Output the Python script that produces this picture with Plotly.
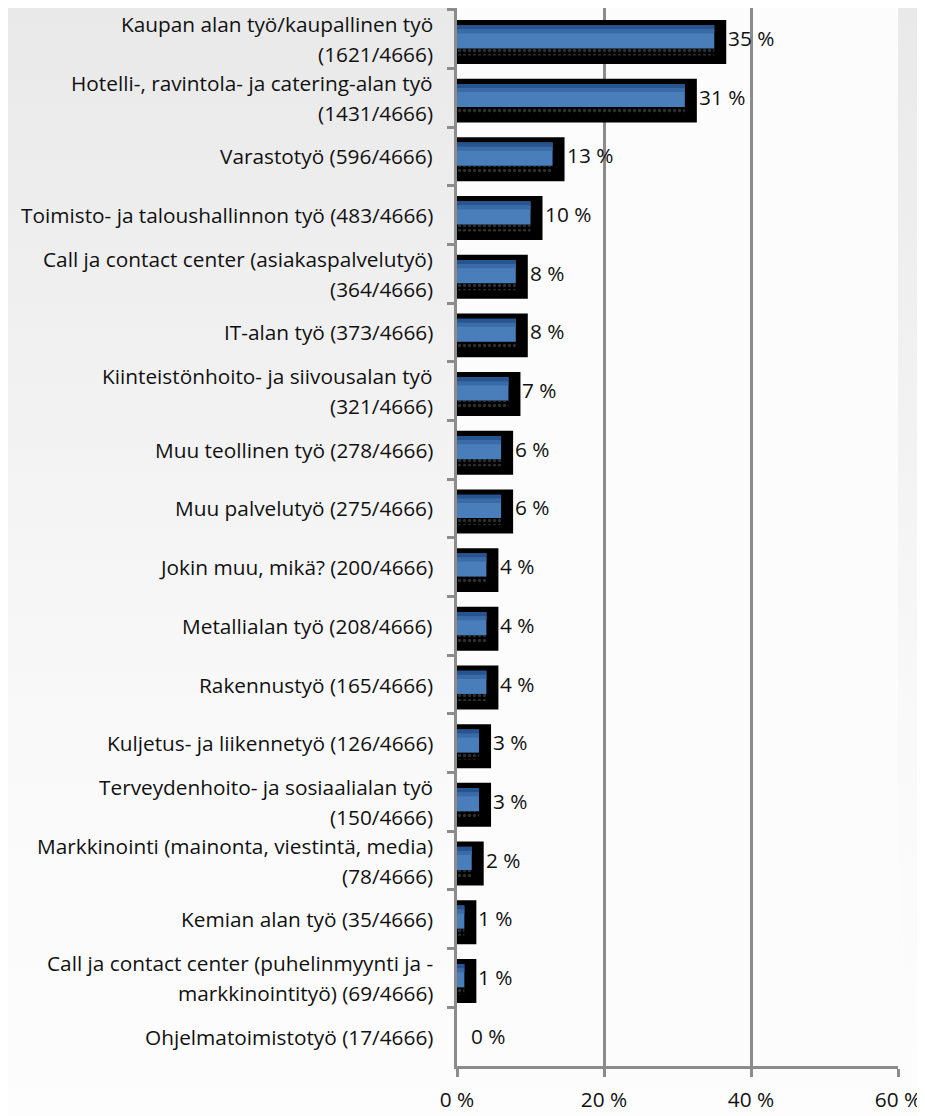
import plotly.graph_objects as go
from urllib.parse import quote

categories = [
    "Kaupan alan työ/kaupallinen työ<br>(1621/4666)",
    "Hotelli-, ravintola- ja catering-alan työ<br>(1431/4666)",
    "Varastotyö (596/4666)",
    "Toimisto- ja taloushallinnon työ (483/4666)",
    "Call ja contact center (asiakaspalvelutyö)<br>(364/4666)",
    "IT-alan työ (373/4666)",
    "Kiinteistönhoito- ja siivousalan työ<br>(321/4666)",
    "Muu teollinen työ (278/4666)",
    "Muu palvelutyö (275/4666)",
    "Jokin muu, mikä? (200/4666)",
    "Metallialan työ (208/4666)",
    "Rakennustyö (165/4666)",
    "Kuljetus- ja liikennetyö (126/4666)",
    "Terveydenhoito- ja sosiaalialan työ<br>(150/4666)",
    "Markkinointi (mainonta, viestintä, media)<br>(78/4666)",
    "Kemian alan työ (35/4666)",
    "Call ja contact center (puhelinmyynti ja -<br>markkinointityö) (69/4666)",
    "Ohjelmatoimistotyö (17/4666)",
]
values = [35, 31, 13, 10, 8, 8, 7, 6, 6, 4, 4, 4, 3, 3, 2, 1, 1, 0]
x_ticks = [0, 20, 40, 60]
x_ticklabels = ["0 %", "20 %", "40 %", "60 %"]

FONT = "Open Sans"
FS = 20.8
TXT = "#111111"
GRID = "#8c8c8c"

# page body has an 8px margin, so the figure is placed at (8, 8) in the window
W, H = 917, 1108
ML, MR, MT, MB = 449, 27, 0, 50
PW, PH = W - ML - MR, H - MT - MB

fig = go.Figure()

# black shadow box (no box for zero-length bars)
shadow_x = [v if v > 0 else None for v in values]
fig.add_trace(go.Bar(
    y=categories, x=shadow_x, orientation="h",
    width=0.34, offset=-0.12,
    marker=dict(color="black", line=dict(color="black", width=24)),
    hoverinfo="skip", showlegend=False,
))
# dotted texture strip under the blue bar
fig.add_trace(go.Bar(
    y=categories, x=values, orientation="h",
    width=0.12, offset=0.16,
    marker=dict(color="black", line=dict(width=0),
                pattern=dict(shape=".", fgcolor="#5c5c5c", bgcolor="black", size=5, solidity=0.35)),
    hoverinfo="skip", showlegend=False,
))
# main blue bar
fig.add_trace(go.Bar(
    y=categories, x=values, orientation="h",
    width=0.395, offset=-0.235,
    marker=dict(color="#4a7ebb", line=dict(width=0)),
    hoverinfo="skip", showlegend=False,
))
# gradient strips at top of blue bar
fig.add_trace(go.Bar(
    y=categories, x=values, orientation="h",
    width=0.07, offset=-0.165,
    marker=dict(color="#3a6ba8", line=dict(width=0)),
    hoverinfo="skip", showlegend=False,
))
fig.add_trace(go.Bar(
    y=categories, x=values, orientation="h",
    width=0.07, offset=-0.235,
    marker=dict(color="#27548f", line=dict(width=0)),
    hoverinfo="skip", showlegend=False,
))

annotations = []
# value labels
for c, v in zip(categories, values):
    annotations.append(dict(
        x=v, y=c, xref="x", yref="y", text=f"{v} %", showarrow=False,
        xanchor="left", yanchor="middle", xshift=12, yshift=1,
        font=dict(family=FONT, size=FS, color=TXT),
    ))
# category labels, one annotation per line for Excel-like line spacing
LINE = 30
for c in categories:
    lines = c.split("<br>")
    n = len(lines)
    for i, ln in enumerate(lines):
        annotations.append(dict(
            x=0, y=c, xref="paper", yref="y", text=ln, showarrow=False,
            xanchor="right", yanchor="middle", xshift=-22,
            yshift=((n - 1) / 2 - i) * LINE,
            font=dict(family=FONT, size=FS, color=TXT),
        ))

svg = (f"<svg xmlns='http://www.w3.org/2000/svg' width='{W}' height='{H}'>"
       "<defs><linearGradient id='g' x1='0' y1='0' x2='0' y2='1'>"
       "<stop offset='0' stop-color='#e9e9e9'/>"
       "<stop offset='0.65' stop-color='#f9f9f9'/>"
       "<stop offset='1' stop-color='#fdfdfd'/>"
       "</linearGradient></defs>"
       f"<rect width='{W}' height='{H}' fill='url(#g)'/></svg>")

fig.update_layout(
    width=W, height=H,
    margin=dict(l=ML, r=MR, t=MT, b=MB),
    barmode="overlay",
    paper_bgcolor="#f2f2f2",
    plot_bgcolor="#fcfcfc",
    font=dict(family=FONT, size=FS, color=TXT),
    annotations=annotations,
    images=[dict(
        source="data:image/svg+xml;charset=utf-8," + quote(svg),
        xref="paper", yref="paper",
        x=-ML / PW, y=1 + MT / PH, sizex=W / PW, sizey=H / PH,
        xanchor="left", yanchor="top", sizing="stretch", layer="below",
    )],
    shapes=[dict(
        type="rect", xref="paper", yref="paper", x0=0, x1=1, y0=0, y1=1,
        fillcolor="#fcfcfc", line=dict(width=0), layer="below",
    )],
    xaxis=dict(
        range=[0, 60], tickvals=x_ticks, ticktext=x_ticklabels,
        showgrid=True, gridcolor=GRID, gridwidth=3,
        showline=True, linecolor=GRID, linewidth=3,
        ticks="outside", ticklen=8, tickwidth=3, tickcolor=GRID,
        ticklabelstandoff=5, zeroline=False,
        tickfont=dict(family=FONT, size=FS, color=TXT),
    ),
    yaxis=dict(
        type="category", categoryorder="array", categoryarray=categories,
        autorange="reversed",
        showticklabels=False, showgrid=False,
        showline=True, linecolor=GRID, linewidth=3,
        ticks="outside", ticklen=7, tickwidth=3, tickcolor=GRID,
        tickson="boundaries", zeroline=False,
    ),
)

fig.write_html("out.html")
